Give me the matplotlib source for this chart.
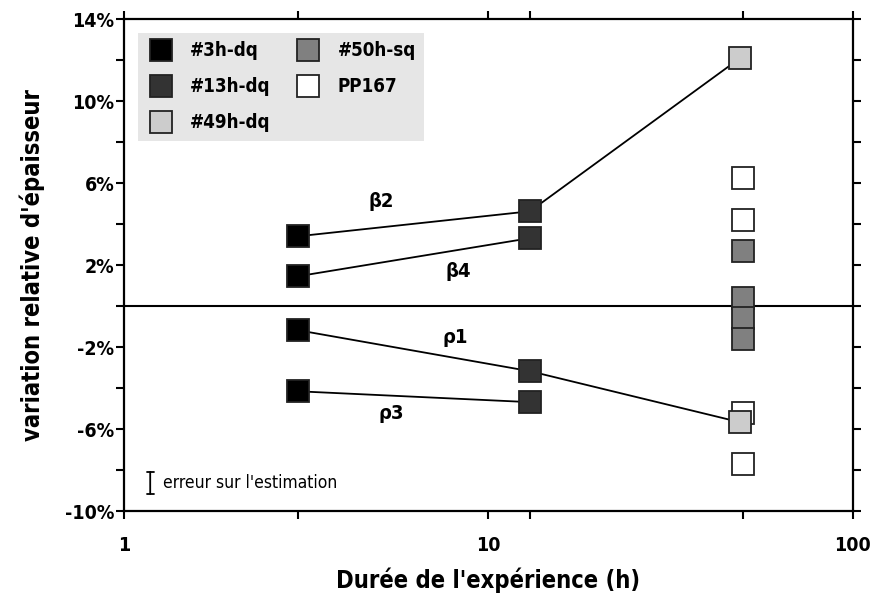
import matplotlib.pyplot as plt
from matplotlib.ticker import FixedLocator, NullFormatter, FuncFormatter

plt.rcParams['font.family'] = ['DejaVu Sans']
plt.rcParams['font.stretch'] = 'condensed'

# durations (h)
hours_3 = [3, 3, 3, 3]
hours_13 = [13, 13, 13, 13]
hours_49 = [49, 49]
hours_50 = [50, 50, 50, 50]
hours_pp = [50, 50, 50, 50]

# relative thickness variation (%)
dq3 = [3.41, 1.46, -1.17, -4.15]
dq13 = [4.63, 3.32, -3.17, -4.68]
dq49 = [12.1, -5.66]
sq50 = [2.68, 0.39, -0.59, -1.61]
pp167 = [6.24, 4.2, -5.22, -7.7]

# lines linking the same sample position
lines = {
    "β2": ([3, 13, 49], [3.41, 4.63, 12.1]),
    "β4": ([3, 13], [1.46, 3.32]),
    "ρ1": ([3, 13, 49], [-1.17, -3.17, -5.66]),
    "ρ3": ([3, 13], [-4.15, -4.68]),
}
line_labels = {"β2": (5.07, 5.1), "β4": (8.25, 1.7), "ρ1": (8.1, -1.55), "ρ3": (5.4, -5.25)}

fig = plt.figure(figsize=(8.73, 6.0), dpi=100)
ax = fig.add_axes([0.142, 0.148, 0.835, 0.82])

ax.axhline(0, color="black", lw=1.5, zorder=1)
for name, (x, y) in lines.items():
    ax.plot(x, y, color="black", lw=1.3, zorder=2)
    lx, ly = line_labels[name]
    ax.text(lx, ly, name, fontsize=14.5, fontweight="bold", ha="center", va="center")

ms = 15.5
edge = "#222222"
kw = dict(marker="s", ms=ms, mec=edge, mew=1.3, ls="none", zorder=3)
ax.plot(hours_3, dq3, mfc="black", label="#3h-dq", **kw)
ax.plot(hours_13, dq13, mfc="#333333", label="#13h-dq", **kw)
ax.plot(hours_pp, pp167, mfc="white", label="PP167", **kw)
ax.plot(hours_49, dq49, mfc="#cccccc", label="#49h-dq", **kw)
ax.plot(hours_50, sq50, mfc="#808080", label="#50h-sq", **kw)

handles, labels = ax.get_legend_handles_labels()
order = ["#3h-dq", "#13h-dq", "#49h-dq", "#50h-sq", "PP167"]
hmap = dict(zip(labels, handles))
leg = ax.legend([hmap[k] for k in order], order, loc="upper left",
                bbox_to_anchor=(0.019, 0.972), borderaxespad=0, ncol=2,
                frameon=True, fancybox=False, facecolor="#e6e6e6", edgecolor="none",
                framealpha=1, prop={"weight": "bold", "size": 13.5},
                handlelength=1.6, handletextpad=0.75, columnspacing=1.2,
                labelspacing=0.9, borderpad=0.45, markerscale=1.0)

# error indicator
ax.annotate("", xy=(0.036, 0.035), xytext=(0.036, 0.08), xycoords="axes fraction",
            arrowprops=dict(arrowstyle="|-|,widthA=0.25,widthB=0.25", lw=1.3, color="black",
                            shrinkA=0, shrinkB=0))
ax.text(0.053, 0.058, "erreur sur l'estimation", transform=ax.transAxes,
        fontsize=12.5, va="center", ha="left")

ax.set_xscale("log")
ax.set_xlim(1, 100)
ax.set_ylim(-10, 14)
ax.xaxis.set_major_locator(FixedLocator([1, 10, 100]))
ax.xaxis.set_minor_locator(FixedLocator([3, 13, 50]))
ax.xaxis.set_major_formatter(FuncFormatter(lambda v, p: f"{v:g}"))
ax.xaxis.set_minor_formatter(NullFormatter())
ax.yaxis.set_major_locator(FixedLocator([-10, -6, -2, 2, 6, 10, 14]))
ax.yaxis.set_minor_locator(FixedLocator([-8, -4, 0, 4, 8, 12]))
ax.yaxis.set_major_formatter(FuncFormatter(lambda v, p: f"{v:g}%"))

ax.tick_params(which="both", direction="out", length=6, width=1.5,
               top=True, right=True, labelsize=14)
ax.tick_params(axis="x", which="major", pad=12)
ax.tick_params(axis="y", which="major", pad=1)
for lab in ax.get_xticklabels() + ax.get_yticklabels():
    lab.set_fontweight("bold")
for s in ax.spines.values():
    s.set_linewidth(1.6)

ax.set_xlabel("Durée de l'expérience (h)", fontsize=17, fontweight="bold", labelpad=9)
ax.set_ylabel("variation relative d'épaisseur", fontsize=17, fontweight="bold", labelpad=14)

fig.savefig("out.png", dpi=100)
